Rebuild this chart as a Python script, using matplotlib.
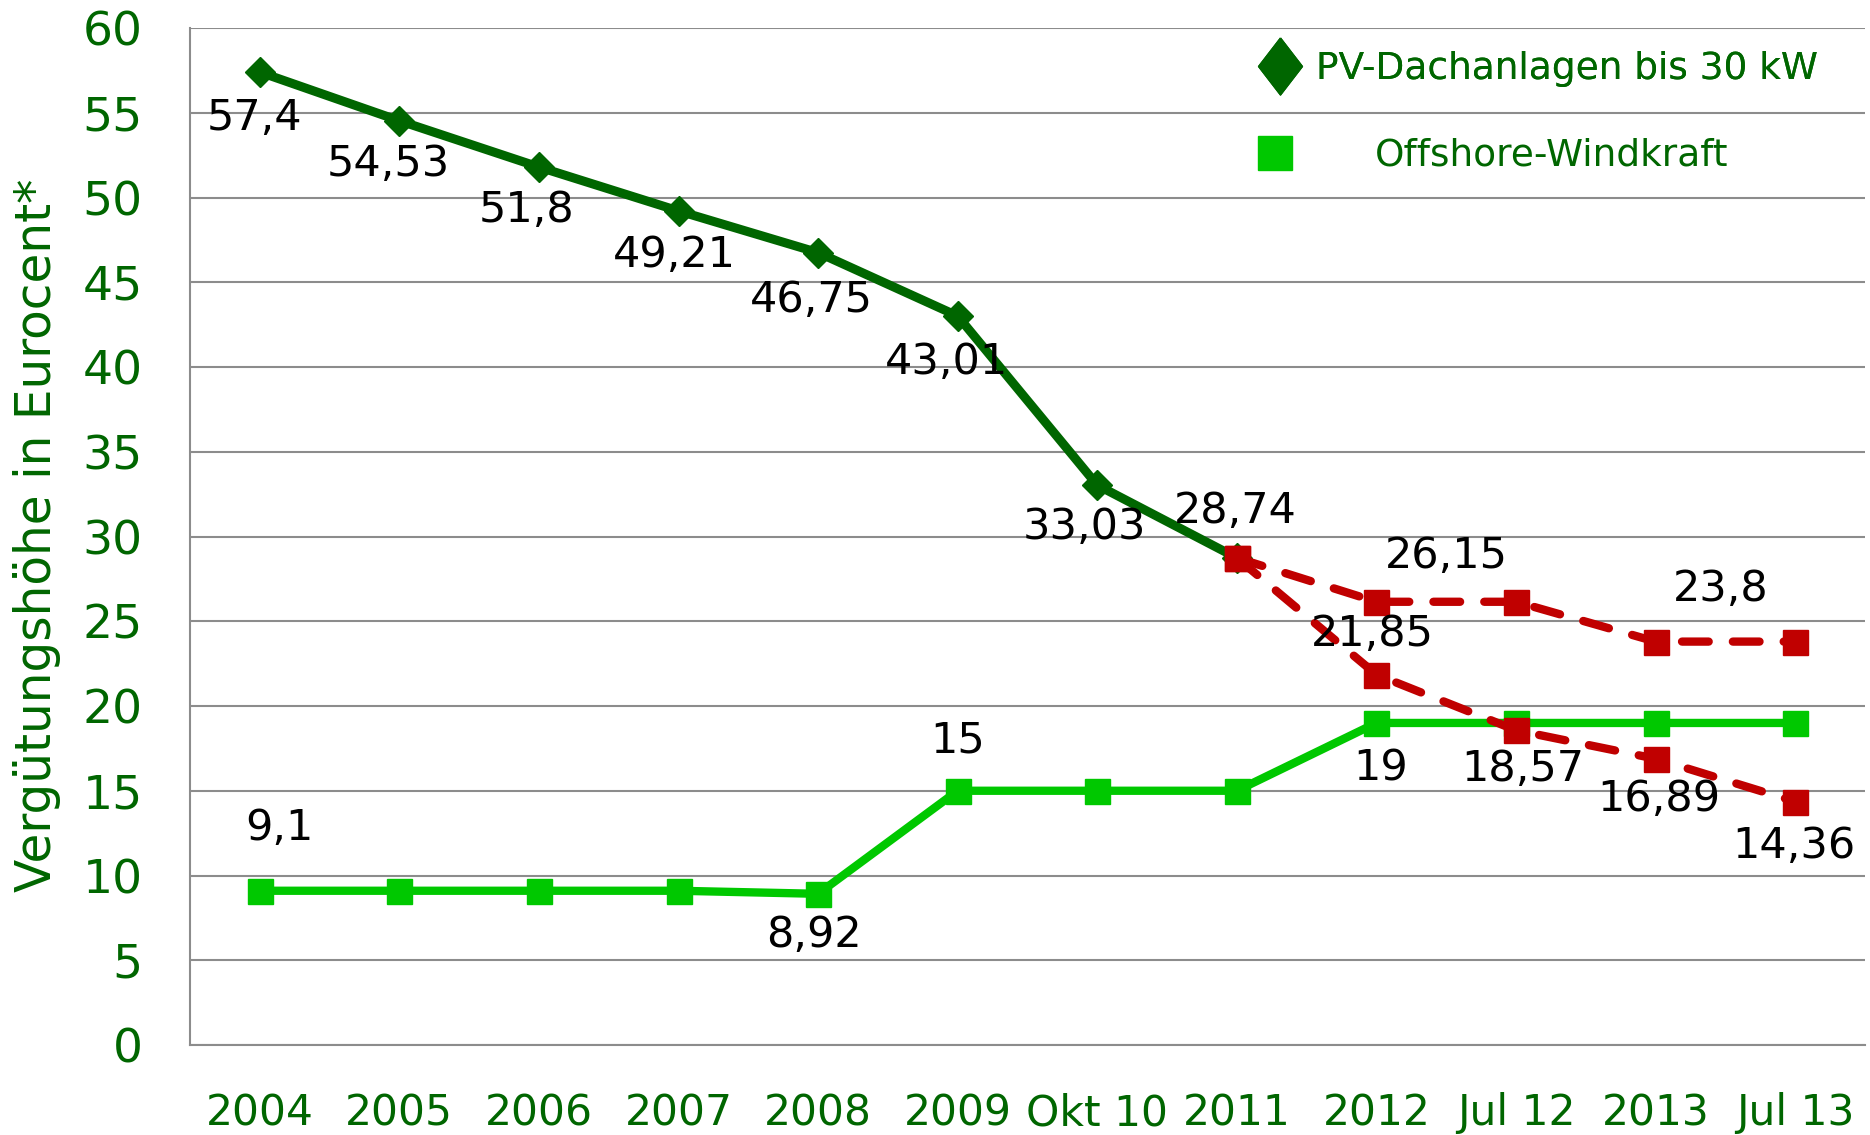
import matplotlib
matplotlib.use("Agg")
import matplotlib.pyplot as plt
from matplotlib.lines import Line2D

# categories and values
categories = ["2004", "2005", "2006", "2007", "2008", "2009", "Okt 10",
              "2011", "2012", "Jul 12", "2013", "Jul 13"]
pv_roof = [57.4, 54.53, 51.8, 49.21, 46.75, 43.01, 33.03, 28.74]
pv_high = [28.74, 26.15, 26.15, 23.8, 23.8]   # from 2011 on
pv_low = [28.74, 21.85, 18.57, 16.89, 14.36]  # from 2011 on
offshore = [9.1, 9.1, 9.1, 9.1, 8.92, 15, 15, 15, 19, 19, 19, 19]

DARK = "#006600"
LIGHT = "#00c800"
RED = "#c00000"
GRID = "#8c8c8c"
LABEL_FS = 31

plt.rcParams["font.family"] = ["DejaVu Sans"]

fig = plt.figure(figsize=(18.7, 11.35), dpi=100)
ax = fig.add_axes([0.1016, 0.0793, 0.8957, 0.896])

x_all = list(range(len(categories)))
x_pv = x_all[:len(pv_roof)]
x_fc = x_all[len(pv_roof) - 1:]

ax.plot(x_all, offshore, color=LIGHT, lw=6, marker="s", ms=18,
        solid_joinstyle="miter", zorder=3)
ax.plot(x_pv, pv_roof, color=DARK, lw=6.5, marker="D", ms=15,
        solid_joinstyle="miter", zorder=3)
for ys in (pv_high, pv_low):
    ax.plot(x_fc, ys, color=RED, lw=6, marker="s", ms=18,
            linestyle=(0, (3.2, 2.9)), dash_capstyle="round", zorder=4)

def fmt(v):
    return f"{v:g}".replace(".", ",")

def put(text, xy, off):
    ax.annotate(text, xy, xytext=off, textcoords="offset points",
                ha="center", va="center", fontsize=LABEL_FS, color="black",
                zorder=5)

# label offsets in points (dx, dy)
pv_off = [(-4, -33), (-8, -31), (-9, -31), (-3, -32), (-5, -34), (-8, -33),
          (-9, -30), (-1, 34)]
for xi, v, off in zip(x_pv, pv_roof, pv_off):
    put(fmt(v), (xi, v), off)

low_off = [(-3, 29), (5, -28), (2, -29), (-1, -32)]
for xi, v, off in zip(x_fc[1:], pv_low[1:], low_off):
    put(fmt(v), (xi, v), off)

# upper scenario: one label between each pair of equal values
for i, off in zip((1, 3), [(0, 33), (-3, 38)]):
    xm = (x_fc[i] + x_fc[i + 1]) / 2
    put(fmt(pv_high[i]), (xm, pv_high[i]), off)

off_labels = {0: (14, 45), 4: (-3, -30), 5: (0, 36), 8: (3, -33)}
for i, off in off_labels.items():
    put(fmt(offshore[i]), (i, offshore[i]), off)

ax.set_xlim(-0.5, len(categories) - 0.5)
ax.set_ylim(0, 60)
ax.set_yticks(range(0, 61, 5))
ax.set_xticks(x_all)
ax.set_xticklabels(categories)
ax.tick_params(axis="y", length=0, pad=34, labelsize=34, labelcolor=DARK)
ax.tick_params(axis="x", length=0, pad=34, labelsize=30.5, labelcolor=DARK)
ax.grid(axis="y", color=GRID, lw=1.5)
ax.set_axisbelow(True)
for side in ("top", "right"):
    ax.spines[side].set_visible(False)
for side in ("left", "bottom"):
    ax.spines[side].set_color(GRID)
    ax.spines[side].set_linewidth(1.5)

ax.set_ylabel("Vergütungshöhe in Eurocent*", fontsize=35, color=DARK, va="center")
ax.yaxis.set_label_coords(-0.0913, 0.501)

# legend: two separate entries, the second one indented like the original
diamond = [(0, 1), (0.77, 0), (0, -1), (-0.77, 0), (0, 1)]
h1 = Line2D([], [], color=DARK, marker=diamond, ms=41, linestyle="none")
h2 = Line2D([], [], color=LIGHT, marker="s", ms=24, linestyle="none")
leg1 = fig.legend([h1], ["PV-Dachanlagen bis 30 kW"], loc="center left",
                  bbox_to_anchor=(1261 / 1870, 1 - 69 / 1135), frameon=False,
                  fontsize=27, labelcolor=DARK, handlelength=1.0,
                  handletextpad=0.48, borderpad=0, borderaxespad=0)
fig.legend([h2], ["Offshore-Windkraft"], loc="center left",
           bbox_to_anchor=(1256 / 1870, 1 - 156 / 1135), frameon=False,
           fontsize=27, labelcolor=DARK, handlelength=1.0,
           handletextpad=2.16, borderpad=0, borderaxespad=0)
fig.add_artist(leg1)

fig.savefig("out.png", dpi=100)
